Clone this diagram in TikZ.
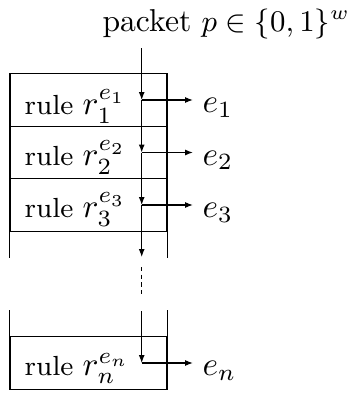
\documentclass[tikz,border=0pt]{standalone}
\usetikzlibrary{arrows.meta}
\newcommand{\rtxt}[1]{{\fontsize{8.3}{10}\selectfont #1}}
\newcommand{\htxt}[1]{{\fontsize{9.5}{11}\selectfont #1}}
\begin{document}
\begin{tikzpicture}[x=0.3pt,y=-0.3pt,line width=0.33pt,
  font=\fontsize{10}{12}\selectfont,
  rowbox/.style={draw,inner sep=0pt,minimum width=47.1pt,minimum height=15.75pt},
  lbl/.style={inner sep=0pt,anchor=base west},
  rowlbl/.style={lbl},
  arr/.style={-{Latex[length=2.4pt,width=1.8pt]}}]
\useasboundingbox (0,0) rectangle (347,394);
% packet label
\node[lbl,font=\fontsize{9}{11}\selectfont] (pk) at (102,32) {\htxt{packet} $p\in\{0,1\}^w$};
% rows
\node[rowbox] (b1) at (88.5,100) {};
\node[rowbox] (b2) at (88.5,152.5) {};
\node[rowbox] (b3) at (88.5,205) {};
\node[rowbox] (bn) at (88.5,363) {};
\draw (b3.south west) -- ++(0,26);
\draw (b3.south east) -- ++(0,26);
\draw (bn.north west) -- ++(0,-26);
\draw (bn.north east) -- ++(0,-26);
% row texts
\node[rowlbl] (t1) at (24,114.5) {\rtxt{rule}\kern2.7pt$r_1^{e_1}$};
\node[rowlbl] (t2) at (24,165.5) {\rtxt{rule}\kern2.7pt$r_2^{e_2}$};
\node[rowlbl] (t3) at (24,217.5) {\rtxt{rule}\kern2.7pt$r_3^{e_3}$};
\node[rowlbl] (tn) at (24,375.5) {\rtxt{rule}\kern2.7pt$r_n^{e_n}$};
% main vertical line
\coordinate (top) at (141.7,48);
\coordinate (c1) at (141.7,100);
\coordinate (c2) at (141.7,152.5);
\coordinate (c3) at (141.7,205);
\coordinate (c4) at (141.7,257);
\coordinate (d1) at (141.7,267);
\coordinate (d2) at (141.7,294);
\coordinate (c5) at (141.7,311);
\coordinate (cn) at (141.7,363);
\draw[arr] (top) -- (c1);
\draw[arr] (c1) -- (c2);
\draw[arr] (c2) -- (c3);
\draw[arr] (c3) -- (c4);
\draw[dashed,dash pattern=on 1.3pt off 1pt] (d1) -- (d2);
\draw[arr] (c5) -- (cn);
% outputs
\coordinate (o1) at (193,100);
\coordinate (o2) at (193,152.5);
\coordinate (o3) at (193,205);
\coordinate (on) at (193,363);
\draw[arr] (c1) -- (o1);
\draw[arr] (c2) -- (o2);
\draw[arr] (c3) -- (o3);
\draw[arr] (cn) -- (on);
\node[lbl] (e1) at (202,112.5) {$e_1$};
\node[lbl] (e2) at (202,165) {$e_2$};
\node[lbl] (e3) at (202,217.5) {$e_3$};
\node[lbl] (en) at (202,375.5) {$e_n$};
\end{tikzpicture}
\end{document}
